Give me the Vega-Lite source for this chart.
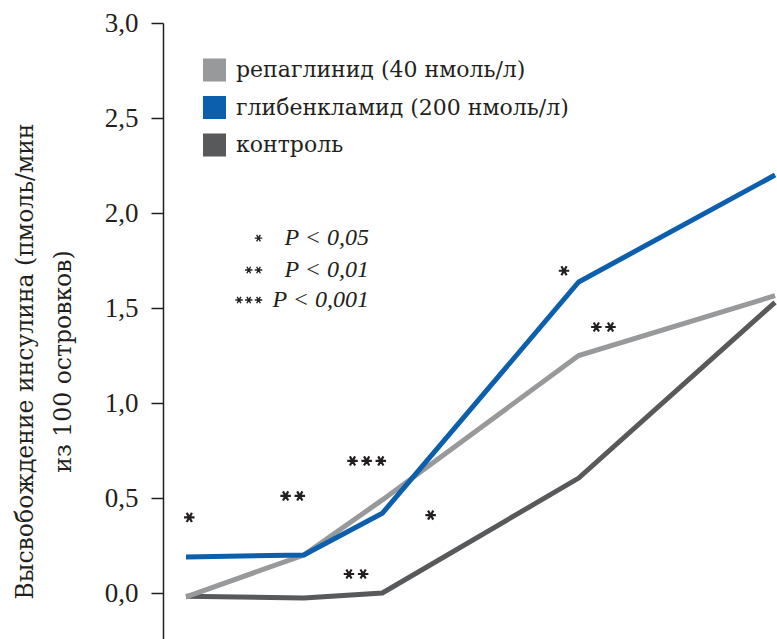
{
  "$schema": "https://vega.github.io/schema/vega-lite/v6.json",
  "width": 614,
  "height": 616,
  "autosize": "none",
  "padding": {"left": 163, "top": 23, "right": 0, "bottom": 0},
  "background": "white",
  "config": {"view": {"stroke": null}, "font": "DejaVu Serif"},
  "datasets": {
    "lines": [
      {"series": "контроль", "x": 0, "y": -0.017},
      {"series": "контроль", "x": 3, "y": -0.026},
      {"series": "контроль", "x": 5, "y": 0.0},
      {"series": "контроль", "x": 10, "y": 0.605},
      {"series": "контроль", "x": 15, "y": 1.53},
      {"series": "репаглинид (40 нмоль/л)", "x": 0, "y": -0.02},
      {"series": "репаглинид (40 нмоль/л)", "x": 3, "y": 0.2},
      {"series": "репаглинид (40 нмоль/л)", "x": 5, "y": 0.49},
      {"series": "репаглинид (40 нмоль/л)", "x": 10, "y": 1.25},
      {"series": "репаглинид (40 нмоль/л)", "x": 15, "y": 1.565},
      {"series": "глибенкламид (200 нмоль/л)", "x": 0, "y": 0.19},
      {"series": "глибенкламид (200 нмоль/л)", "x": 3, "y": 0.2},
      {"series": "глибенкламид (200 нмоль/л)", "x": 5, "y": 0.42},
      {"series": "глибенкламид (200 нмоль/л)", "x": 10, "y": 1.637},
      {"series": "глибенкламид (200 нмоль/л)", "x": 15, "y": 2.2}
    ],
    "stars": [
      {"x": 0.084, "y": 0.398, "s": "*"},
      {"x": 2.717, "y": 0.511, "s": "**"},
      {"x": 4.6, "y": 0.695, "s": "***"},
      {"x": 6.23, "y": 0.41, "s": "*"},
      {"x": 4.33, "y": 0.1, "s": "**"},
      {"x": 9.626, "y": 1.696, "s": "*"},
      {"x": 10.63, "y": 1.4, "s": "**"}
    ],
    "pkey": [
      {"x": 1.846, "xt": 4.66, "y": 1.868, "s": "*", "t": "P < 0,05"},
      {"x": 1.846, "xt": 4.66, "y": 1.70, "s": "**", "t": "P < 0,01"},
      {"x": 1.846, "xt": 4.66, "y": 1.542, "s": "***", "t": "P < 0,001"}
    ]
  },
  "resolve": {"scale": {"shape": "independent"}},
  "layer": [
    {
      "data": {"name": "lines"},
      "transform": [{"filter": "datum.series === 'контроль'"}],
      "mark": {"type": "line", "strokeWidth": 5},
      "encoding": {
        "x": {"field": "x", "type": "quantitative", "scale": {"domain": [-0.586, 15.05], "nice": false, "zero": false}, "axis": null},
        "y": {"field": "y", "type": "quantitative", "scale": {"domain": [-0.242, 3], "nice": false, "zero": false},
          "axis": {
            "values": [0, 0.5, 1, 1.5, 2, 2.5, 3],
            "labelExpr": "replace(format(datum.value, '.1f'), '.', ',')",
            "grid": false,
            "tickSize": 12, "tickWidth": 1.5, "tickColor": "#231f20",
            "domainWidth": 1.5, "domainColor": "#231f20",
            "labelFont": "Liberation Serif", "labelFontSize": 27, "labelColor": "#231f20", "labelPadding": 13,
            "title": ["Высвобождение инсулина (пмоль/мин", "из 100 островков)"],
            "titleFont": "DejaVu Serif", "titleFontSize": 23.5, "titleFontWeight": "normal", "titleColor": "#231f20",
            "titleAngle": -90, "titleX": -138, "titleY": 338, "titleAlign": "center", "titleBaseline": "middle", "titleLineHeight": 38
          }},
        "color": {"field": "series", "type": "nominal",
          "scale": {"domain": ["репаглинид (40 нмоль/л)", "глибенкламид (200 нмоль/л)", "контроль"], "range": ["#98999b", "#0b5fad", "#58595b"]},
          "legend": {
            "orient": "none", "legendX": 40, "legendY": 35, "title": null,
            "symbolType": "square", "symbolSize": 121, "symbolStrokeWidth": 12, "symbolOpacity": 1,
            "labelFont": "DejaVu Serif", "labelFontSize": 22, "labelColor": "#231f20", "labelOffset": 10, "labelLimit": 0,
            "clipHeight": 24, "rowPadding": 13.5
          }}
      }
    },
    {
      "data": {"name": "lines"},
      "transform": [{"filter": "datum.series === 'репаглинид (40 нмоль/л)'"}],
      "mark": {"type": "line", "strokeWidth": 5},
      "encoding": {
        "x": {"field": "x", "type": "quantitative"},
        "y": {"field": "y", "type": "quantitative"},
        "color": {"field": "series", "type": "nominal"}
      }
    },
    {
      "data": {"name": "lines"},
      "transform": [{"filter": "datum.series === 'глибенкламид (200 нмоль/л)'"}],
      "mark": {"type": "line", "strokeWidth": 5},
      "encoding": {
        "x": {"field": "x", "type": "quantitative"},
        "y": {"field": "y", "type": "quantitative"},
        "color": {"field": "series", "type": "nominal"}
      }
    },
    {
      "data": {"name": "stars"},
      "mark": {"type": "point", "filled": false, "stroke": "#231f20", "strokeWidth": 2.2, "size": 110, "opacity": 1},
      "encoding": {
        "x": {"field": "x", "type": "quantitative"},
        "y": {"field": "y", "type": "quantitative"},
        "shape": {"field": "s", "type": "nominal", "legend": null,
          "scale": {"domain": ["*", "**", "***"],
            "range": [
              "M-1,0L1,0M-0.5,-0.866L0.5,0.866M-0.5,0.866L0.5,-0.866",
              "M-2.35,0L-0.35,0M-1.85,-0.866L-0.85,0.866M-1.85,0.866L-0.85,-0.866M0.35,0L2.35,0M0.85,-0.866L1.85,0.866M0.85,0.866L1.85,-0.866",
              "M-3.7,0L-1.7,0M-3.2,-0.866L-2.2,0.866M-3.2,0.866L-2.2,-0.866M-1,0L1,0M-0.5,-0.866L0.5,0.866M-0.5,0.866L0.5,-0.866M1.7,0L3.7,0M2.2,-0.866L3.2,0.866M2.2,0.866L3.2,-0.866"
            ]}}
      }
    },
    {
      "data": {"name": "pkey"},
      "mark": {"type": "point", "filled": false, "stroke": "#231f20", "strokeWidth": 1.4, "size": 56, "opacity": 1},
      "encoding": {
        "x": {"field": "x", "type": "quantitative"},
        "y": {"field": "y", "type": "quantitative"},
        "shape": {"field": "s", "type": "nominal", "legend": null,
          "scale": {"domain": ["*", "**", "***"],
            "range": [
              "M-1,0L1,0M-0.5,-0.866L0.5,0.866M-0.5,0.866L0.5,-0.866",
              "M-3.6,0L-1.6,0M-3.1,-0.866L-2.1,0.866M-3.1,0.866L-2.1,-0.866M-1,0L1,0M-0.5,-0.866L0.5,0.866M-0.5,0.866L0.5,-0.866",
              "M-6.2,0L-4.2,0M-5.7,-0.866L-4.7,0.866M-5.7,0.866L-4.7,-0.866M-3.6,0L-1.6,0M-3.1,-0.866L-2.1,0.866M-3.1,0.866L-2.1,-0.866M-1,0L1,0M-0.5,-0.866L0.5,0.866M-0.5,0.866L0.5,-0.866"
            ]}}
      }
    },
    {
      "data": {"name": "pkey"},
      "mark": {"type": "text", "font": "Liberation Serif", "fontSize": 24, "fontStyle": "italic", "color": "#231f20", "baseline": "middle", "align": "right"},
      "encoding": {
        "x": {"field": "xt", "type": "quantitative"},
        "y": {"field": "y", "type": "quantitative"},
        "text": {"field": "t"}
      }
    }
  ]
}
